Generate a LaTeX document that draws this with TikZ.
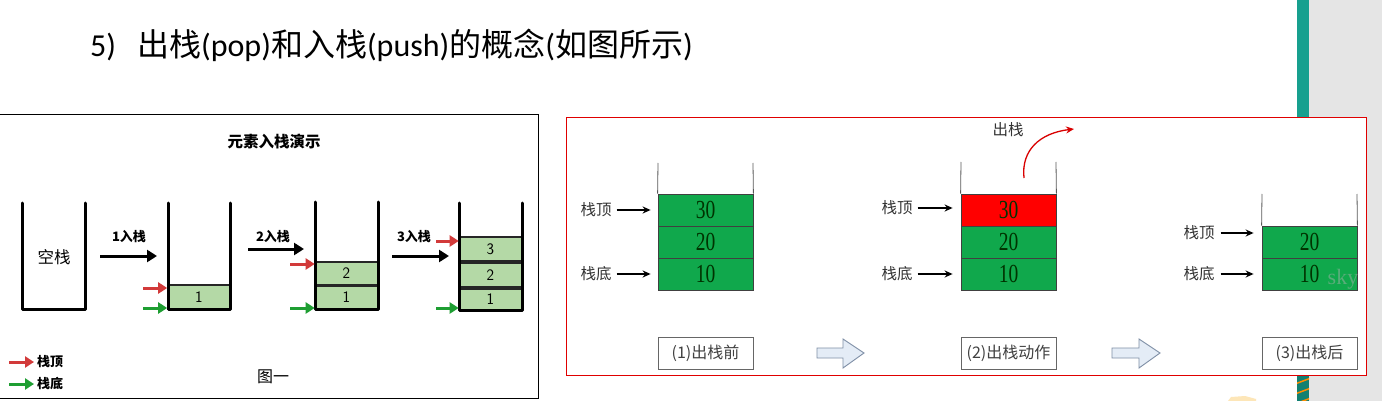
\documentclass[tikz,border=0pt]{standalone}
\usepackage{fontspec}
\setmainfont{Carlito}
\newfontfamily\cjk{Noto Sans CJK SC}
\newfontfamily\ser{Liberation Serif}
\usetikzlibrary{arrows.meta}
\definecolor{lgreen}{HTML}{B4D9A6}
\definecolor{sgreen}{HTML}{10A84C}
\definecolor{redarr}{HTML}{D23A3A}
\definecolor{grnarr}{HTML}{1E9E32}
\definecolor{tealbar}{HTML}{17A08F}
\definecolor{panelred}{HTML}{E00000}
\definecolor{blkfill}{HTML}{E4ECF6}
\definecolor{blkdraw}{HTML}{7F8FA6}
\begin{document}
\begin{tikzpicture}[x=1pt,y=-1pt,
  wall/.style={line width=3pt,line cap=round,line join=round},
  lbox/.style={draw=black!85,line width=1.6pt,fill=lgreen,minimum width=62pt,inner sep=0pt,font=\sffamily\fontsize{16}{16}\selectfont},
  fat/.style={line width=3pt,-{Triangle[length=10pt,width=12pt]}},
  redA/.style={line width=3pt,redarr,-{Triangle[length=9pt,width=11pt]}},
  grnA/.style={line width=3pt,grnarr,-{Triangle[length=9pt,width=11pt]}},
  blab/.style={font=\cjk\bfseries\fontsize{13}{13}\selectfont,inner sep=0pt},
  rwall/.style={draw=black!65,line width=0.8pt},
  rbox/.style={draw=black!75,line width=0.8pt,minimum width=95pt,minimum height=32pt,inner sep=0pt,font=\ser\fontsize{26}{26}\selectfont,text=black!80!green},
  rlab/.style={font=\cjk\fontsize{15.5}{15.5}\selectfont,text=black!80,inner sep=0pt},
  parrow/.style={line width=1.6pt,-{Stealth[length=8pt,width=7pt]}},
  capbox/.style={draw=black!60,line width=0.8pt,minimum width=95pt,minimum height=32pt,inner sep=0pt,font=\cjk\fontsize{16}{16}\selectfont,text=black!75},
  blk/.style={draw=blkdraw,fill=blkfill,line width=0.9pt}
]
\useasboundingbox (0,0) rectangle (1382,401);
\fill[white] (0,0) rectangle (1382,401);
% right edge decoration
\fill[black!10] (1309,0) rectangle (1382,401);
\fill[tealbar] (1297,0) rectangle (1309,401);
\begin{scope}
\clip (1297,376) rectangle (1309,401);
\fill[tealbar!80!black] (1297,376) rectangle (1309,401);
\foreach \yy in {384,394,404}{\draw[orange!90!yellow,line width=1.5pt] (1295,\yy) -- (1311,\yy-6);}
\end{scope}
\fill[yellow!30!orange!25] (1228,401) -- (1231,397) -- (1245,396) -- (1256,399) -- (1256,401) -- cycle;

% title
\node[anchor=west,inner sep=0pt,font=\fontsize{32}{32}\selectfont] (title) at (90,45)
  {5)\kern21pt{\cjk 出栈}(pop){\cjk 和入栈}(push){\cjk 的概念}({\cjk 如图所示})};

% ---------------- left panel
\draw[line width=1pt] (-1,115) rectangle (538,398);
\node[blab,font=\cjk\bfseries\fontsize{15.5}{15.5}\selectfont] (ltitle) at (274,142) {元素入栈演示};
% empty stack
\draw[wall] (22,203) -- (22,309) -- (85,309) -- (85,203);
\node[font=\cjk\fontsize{16.5}{16.5}\selectfont,inner sep=0pt] (empty) at (54,257) {空栈};
% stack 1
\node[lbox,minimum height=24pt] (a1) at (199,297) {1};
\draw[wall] (168,203) -- (168,309) -- (230,309) -- (230,203);
% stack 2
\node[lbox,minimum height=23pt] (b2) at (346.5,273.5) {2};
\node[lbox,minimum height=23pt] (b1) at (346.5,297.5) {1};
\draw[wall] (315,202) -- (315,309) -- (378,309) -- (378,202);
% stack 3
\node[lbox,minimum height=24pt] (c3) at (490.5,249) {3};
\node[lbox,minimum height=24pt] (c2) at (490.5,275) {2};
\node[lbox,minimum height=21pt] (c1) at (490.5,299.5) {1};
\draw[wall] (459,203) -- (459,310) -- (522,310) -- (522,203);
% push arrows
\coordinate (p1s) at (100,256); \coordinate (p1e) at (157,256);
\coordinate (p2s) at (248,249); \coordinate (p2e) at (304,249);
\coordinate (p3s) at (392,256); \coordinate (p3e) at (449,256);
\draw[fat] (p1s) -- (p1e);
\draw[fat] (p2s) -- (p2e);
\draw[fat] (p3s) -- (p3e);
\node[blab] (l1) at (129,237) {1入栈};
\node[blab] (l2) at (273,237) {2入栈};
\node[blab] (l3) at (414,237) {3入栈};
% top / bottom pointers
\coordinate (r1) at (143,288); \coordinate (g1) at (143,308);
\coordinate (r2) at (290,264); \coordinate (g2) at (290,308);
\coordinate (r3) at (436,241); \coordinate (g3) at (436,308);
\draw[redA] (r1) -- (r1 -| a1.west);
\draw[grnA] (g1) -- (g1 -| a1.west);
\draw[redA] (r2) -- (r2 -| b2.west);
\draw[grnA] (g2) -- (g2 -| b1.west);
\draw[redA] (r3) -- (r3 -| c3.west);
\draw[grnA] (g3) -- (g3 -| c1.west);
% legend
\coordinate (lr0) at (9,362); \coordinate (lr1) at (34,362);
\coordinate (lg0) at (9,384); \coordinate (lg1) at (34,384);
\draw[redA] (lr0) -- (lr1);
\draw[grnA] (lg0) -- (lg1);
\node[blab,anchor=west] (legtop) at (37,362) {栈顶};
\node[blab,anchor=west] (legbot) at (37,384) {栈底};
\node[font=\cjk\fontsize{16}{16}\selectfont,inner sep=0pt] (fig1) at (273,377) {图一};

% ---------------- right panel
\draw[panelred,line width=1pt,fill=white] (566,118) rectangle (1366,375);
% stack A
\node[rbox,fill=sgreen] (A30) at (705.5,210) {\scalebox{0.75}[1]{30}};
\node[rbox,fill=sgreen] (A20) at (705.5,242) {\scalebox{0.75}[1]{20}};
\node[rbox,fill=sgreen] (A10) at (705.5,274) {\scalebox{0.75}[1]{10}};
\draw[rwall] (658,163) -- (A30.north west); \draw[rwall] (753,163) -- (A30.north east);
% stack B
\node[rbox,fill=red] (B30) at (1008.5,210) {\scalebox{0.75}[1]{30}};
\node[rbox,fill=sgreen] (B20) at (1008.5,242) {\scalebox{0.75}[1]{20}};
\node[rbox,fill=sgreen] (B10) at (1008.5,274) {\scalebox{0.75}[1]{10}};
\draw[rwall] (961,162) -- (B30.north west); \draw[rwall] (1056,162) -- (B30.north east);
% stack C
\node[rbox,fill=sgreen] (C20) at (1309.5,242) {\scalebox{0.75}[1]{20}};
\node[rbox,fill=sgreen] (C10) at (1309.5,274) {\scalebox{0.75}[1]{10}};
\draw[rwall] (1262,194) -- (C20.north west); \draw[rwall] (1357,194) -- (C20.north east);
\node[font=\ser\fontsize{22}{22}\selectfont,text=black!30,opacity=0.45] (wm) at (1343,279) {sky};
% labels and pointers
\node[rlab] (At) at (596,210) {栈顶};
\node[rlab] (Ab) at (596,274) {栈底};
\node[rlab] (Bt) at (897,208) {栈顶};
\node[rlab] (Bb) at (897,274) {栈底};
\node[rlab] (Ct) at (1199,233) {栈顶};
\node[rlab] (Cb) at (1199,274) {栈底};
\draw[parrow] ([xshift=5pt]At.east) -- ([xshift=-7pt]At -| A30.west);
\draw[parrow] ([xshift=5pt]Ab.east) -- ([xshift=-7pt]Ab -| A10.west);
\draw[parrow] ([xshift=5pt]Bt.east) -- ([xshift=-8pt]Bt -| B30.west);
\draw[parrow] ([xshift=5pt]Bb.east) -- ([xshift=-8pt]Bb -| B10.west);
\draw[parrow] ([xshift=6pt]Ct.east) -- ([xshift=-8pt]Ct -| C20.west);
\draw[parrow] ([xshift=6pt]Cb.east) -- ([xshift=-8pt]Cb -| C10.west);
% pop arrow
\node[rlab] (pop) at (1008,130) {出栈};
\coordinate (popS) at (1024,178); \coordinate (popE) at (1074,129);
\draw[red!85!black,line width=1.3pt,-{Stealth[length=8pt,width=7pt]}] (popS) .. controls (1021,150) and (1040,133) .. (popE);
% captions
\node[capbox] (cap1) at (705.5,353) {(1)出栈前};
\node[capbox] (cap2) at (1008.5,353) {(2)出栈动作};
\node[capbox] (cap3) at (1309.5,353) {(3)出栈后};
\draw[blk] (817,348) -- (843,348) -- (843,339) -- (864,353) -- (843,368) -- (843,358) -- (817,358) -- cycle;
\draw[blk] (1112,348) -- (1139,348) -- (1139,339) -- (1160,353) -- (1139,368) -- (1139,358) -- (1112,358) -- cycle;
\end{tikzpicture}
\end{document}
